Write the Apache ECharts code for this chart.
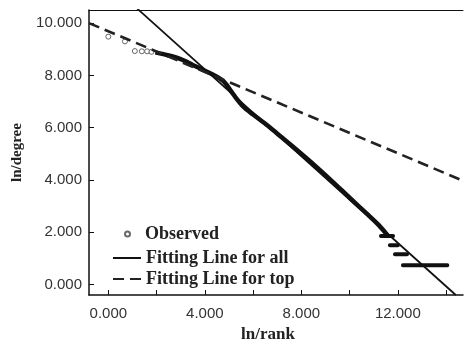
<!DOCTYPE html>
<html>
<head>
<meta charset="utf-8">
<script src="https://cdn.jsdelivr.net/npm/echarts@6/dist/echarts.min.js"></script>
<style>
  html, body { margin: 0; padding: 0; background: #fff; }
  #main { width: 465px; height: 348px; }
</style>
</head>
<body>
<div id="main"></div>
<script>
// axis ticks / labels
var xTicks = [0, 2, 4, 6, 8, 10, 12, 14];
var xLabels = [0, 4, 8, 12];
var yTicks = [0, 2, 4, 6, 8, 10];

// observed, sparse top ranks (ln rank, ln degree)
var obsTopX = [0, 0.69, 1.10, 1.39, 1.61, 1.79];
var obsTopY = [9.48, 9.30, 8.93, 8.92, 8.92, 8.90];

// observed, dense part (reads as one thick curve)
var obsCurveX = [1.95, 2.5, 3.0, 3.5, 4.0, 4.4, 4.8, 5.2, 5.6, 6.0, 6.6, 7.2, 7.9, 8.6, 9.3, 10.0, 10.7, 11.2, 11.6];
var obsCurveY = [8.88, 8.76, 8.62, 8.40, 8.18, 8.00, 7.75, 7.25, 6.80, 6.50, 6.08, 5.62, 5.08, 4.52, 3.93, 3.32, 2.72, 2.28, 1.85];

// observed tail: low degrees give flat runs
var tailLevel = [1.86, 1.50, 1.16, 0.74];
var tailStart = [11.30, 11.67, 11.88, 12.21];
var tailEnd   = [11.80, 12.00, 12.38, 14.05];

// fitted lines (end points)
var fitAllX = [1.2, 14.4];
var fitAllY = [10.55, -0.40];
var fitTopX = [-0.8, 14.7];
var fitTopY = [10.00, 3.97];

function pairs(xs, ys) {
    var out = [];
    for (var i = 0; i < xs.length; i++) out.push([xs[i], ys[i]]);
    return out;
}
var tailData = [];
for (var t = 0; t < tailLevel.length; t++) {
    tailData.push([tailStart[t], tailLevel[t]]);
    tailData.push([tailEnd[t], tailLevel[t]]);
    tailData.push([tailEnd[t], '-']);
}

var tickFont = { fontFamily: 'Liberation Sans', fontSize: 15, color: '#333' };
var legendFont = { fontFamily: 'Liberation Serif', fontWeight: 'bold', fontSize: 18, color: '#222' };

var myChart = echarts.init(document.getElementById('main'));
var option = {
    animation: false,
    backgroundColor: '#fff',
    grid: { left: 89, top: 10, right: 2, bottom: 45 },
    legend: [
        {
            orient: 'vertical', left: 119, top: 220,
            itemWidth: 5, itemHeight: 5,
            data: ['Observed'],
            textStyle: Object.assign({ padding: [0, 0, 0, 10] }, legendFont)
        },
        {
            orient: 'vertical', left: 107, top: 244,
            itemWidth: 28, itemHeight: 12, itemGap: 3,
            itemStyle: { color: 'rgba(0,0,0,0)', borderWidth: 0 },
            data: ['Fitting Line for all', 'Fitting Line for top'],
            textStyle: legendFont
        }
    ],
    xAxis: [
        {
            type: 'value', min: -0.8, max: 14.7,
            name: 'ln/rank', nameLocation: 'middle', nameGap: 31,
            nameTextStyle: { fontFamily: 'Liberation Serif', fontWeight: 'bold', fontSize: 17, color: '#222', padding: [0, 16, 0, 0] },
            splitLine: { show: false },
            axisLine: { onZero: false, lineStyle: { color: '#111', width: 1.5 } },
            axisTick: { inside: true, length: 5, customValues: xTicks, lineStyle: { color: '#111' } },
            axisLabel: Object.assign({ customValues: xLabels, margin: 11, formatter: function (v) { return v.toFixed(3); } }, tickFont)
        },
        {
            type: 'value', position: 'top', min: -0.8, max: 14.7,
            axisLine: { show: true, onZero: false, lineStyle: { color: '#111', width: 1 } },
            axisTick: { show: false }, axisLabel: { show: false }, splitLine: { show: false }
        }
    ],
    yAxis: {
        type: 'value', min: -0.4, max: 10.5,
        name: 'ln/degree', nameLocation: 'middle', nameGap: 64, nameRotate: 90,
        nameTextStyle: { fontFamily: 'Liberation Serif', fontWeight: 'bold', fontSize: 15, color: '#222' },
        splitLine: { show: false },
        axisLine: { show: true, onZero: false, lineStyle: { color: '#111', width: 1.5 } },
        axisTick: { show: true, inside: true, length: 5, customValues: yTicks, lineStyle: { color: '#111' } },
        axisLabel: Object.assign({ customValues: yTicks, margin: 7, formatter: function (v) { return v.toFixed(3); } }, tickFont)
    },
    series: [
        {
            name: 'Observed', type: 'scatter',
            data: pairs(obsTopX, obsTopY),
            symbol: 'circle', symbolSize: 5,
            itemStyle: { color: '#fff', borderColor: '#444', borderWidth: 1 },
            z: 3
        },
        {
            name: 'observed-curve', type: 'line',
            data: pairs(obsCurveX, obsCurveY),
            symbol: 'none', smooth: 0.3,
            lineStyle: { color: '#111', width: 4.5 },
            z: 3
        },
        {
            name: 'observed-tail', type: 'line',
            data: tailData,
            symbol: 'none', connectNulls: false,
            lineStyle: { color: '#111', width: 4, cap: 'round' },
            z: 3
        },
        {
            name: 'Fitting Line for all', type: 'line',
            data: pairs(fitAllX, fitAllY),
            symbol: 'none',
            itemStyle: { color: '#111' },
            lineStyle: { color: '#111', width: 1.8 },
            z: 4
        },
        {
            name: 'Fitting Line for top', type: 'line',
            data: pairs(fitTopX, fitTopY),
            symbol: 'none',
            itemStyle: { color: '#222' },
            lineStyle: { color: '#222', width: 2.6, type: [11, 6] },
            z: 4
        }
    ]
};
myChart.setOption(option);
</script>
</body>
</html>
